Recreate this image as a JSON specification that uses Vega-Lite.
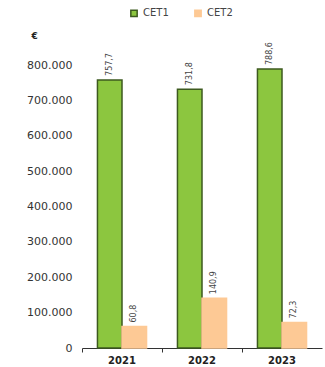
{
  "$schema": "https://vega.github.io/schema/vega-lite/v6.json",
  "width": 240,
  "height": 283,
  "autosize": {"type": "none"},
  "padding": {"left": 82, "top": 65, "right": 3, "bottom": 19},
  "background": "white",
  "config": {"view": {"stroke": null}, "font": "DejaVu Sans"},
  "data": {"values": [
    {"year": "2021", "series": "CET1", "value": 757700, "label": "757,7"},
    {"year": "2021", "series": "CET2", "value": 60800, "label": "60,8"},
    {"year": "2022", "series": "CET1", "value": 731800, "label": "731,8"},
    {"year": "2022", "series": "CET2", "value": 140900, "label": "140,9"},
    {"year": "2023", "series": "CET1", "value": 788600, "label": "788,6"},
    {"year": "2023", "series": "CET2", "value": 72300, "label": "72,3"}
  ]},
  "encoding": {
    "x": {"field": "year", "type": "nominal", "scale": {"paddingInner": 0, "paddingOuter": 0},
      "axis": {"title": null, "labelAngle": 0, "labelFont": "DejaVu Sans", "labelFontWeight": "bold", "labelFontSize": 10, "labelColor": "#222", "domainColor": "#333", "tickColor": "#333", "tickSize": 4, "bandPosition": 0, "labelPadding": 3}},
    "xOffset": {"field": "series", "type": "nominal", "scale": {"paddingInner": 0, "paddingOuter": 0.63}},
    "y": {"field": "value", "type": "quantitative", "scale": {"domain": [0, 800000]},
      "axis": {"title": "€", "titleAngle": 0, "titleX": -48, "titleY": -25, "titleFontSize": 9, "titleColor": "#222", "values": [0, 100000, 200000, 300000, 400000, 500000, 600000, 700000, 800000], "labelExpr": "datum.value == 0 ? '0' : replace(format(datum.value, ',d'), ',', '.')", "domain": false, "ticks": false, "grid": false, "labelFontSize": 11, "labelColor": "#333", "labelPadding": 10}}
  },
  "layer": [
    {
      "mark": {"type": "bar", "strokeWidth": 1.5},
      "encoding": {
        "color": {"field": "series", "type": "nominal", "scale": {"domain": ["CET1", "CET2"], "range": ["#8cc63f", "#fdc995"]},
          "legend": {"title": null, "orient": "none", "direction": "horizontal", "legendX": 47, "legendY": -57, "symbolType": "square", "symbolSize": 40, "symbolStrokeColor": "#3d5a1f", "labelFontSize": 10, "labelColor": "#444", "columnPadding": 22}},
        "stroke": {"field": "series", "type": "nominal", "scale": {"domain": ["CET1", "CET2"], "range": ["#3d5a1f", "#fdc995"]}, "legend": null}
      }
    },
    {
      "mark": {"type": "text", "angle": 270, "align": "left", "baseline": "middle", "dx": 4, "fontSize": 8, "color": "#444"},
      "encoding": {"text": {"field": "label"}}
    }
  ]
}
